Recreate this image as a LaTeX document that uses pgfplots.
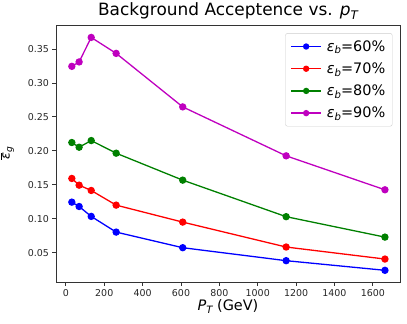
\documentclass[border=0pt]{standalone}
\usepackage{fontspec}
\setmainfont{DejaVu Sans}
\usepackage{pgfplots}
\pgfplotsset{compat=1.18}
\usetikzlibrary{calc}
\definecolor{mgreen}{rgb}{0,0.5,0}
\definecolor{mmag}{rgb}{0.75,0,0.75}
\newcommand{\sub}[1]{\raisebox{-0.35ex}{\fontsize{0.7em}{1em}\selectfont\itshape #1}}
\begin{document}
\begin{tikzpicture}[x=1bp,y=1bp]
\begin{axis}[
  scale only axis,
  width=344bp, height=257bp,
  xmin=-51.5, xmax=1741.5,
  ymin=0.0068, ymax=0.3853,
  xtick={0,200,...,1600},
  ytick={0.05,0.10,...,0.36},
  yticklabel style={/pgf/number format/.cd,fixed,fixed zerofill,precision=2},
  xticklabel style={/pgf/number format/.cd,1000 sep={}},
  /pgf/number format/assume math mode=true,
  scaled y ticks=false,
  tick align=outside,
  major tick length=3.5bp,
  xtick pos=bottom, ytick pos=left,
  ticklabel style={font=\fontsize{9.5}{10}\selectfont, color=black!85},
  axis line style={black!80, line width=0.8bp},
  tick style={black!80, line width=0.8bp},
  title={Background Acceptence vs. \textit{p}\sub{T}},
  title style={font=\fontsize{17}{19}\selectfont, yshift=-4bp},
  xlabel={\textit{P}\sub{T} (GeV)},
  xlabel style={font=\fontsize{14.5}{16}\selectfont, yshift=3bp},
  ylabel={$\overline{\mbox{\textit{ε}}}$\sub{g}},
  ylabel style={font=\fontsize{13}{15}\selectfont, yshift=7bp},
  legend style={at={(0.978,0.968)}, anchor=north east, font=\fontsize{14.5}{16}\selectfont,
    draw=black!20, rounded corners=2bp, row sep=6bp, column sep=3bp, inner sep=5bp},
  legend cell align=left,
  legend image code/.code={\draw[#1, mark repeat=2, mark phase=2, mark size=2.5bp] plot coordinates {(0bp,0bp) (15bp,0bp) (30bp,0bp)};},
  every axis plot/.append style={line width=1.3bp, mark=*, mark size=3bp},
]
\addplot[blue, mark options={fill=blue, draw=blue}] coordinates {
(31,0.1244) (69,0.118) (132,0.1034) (262,0.0803) (609,0.0573) (1148,0.0382) (1663,0.024)};
\addlegendentry{\textit{ε}\sub{b}=60\%}
\addplot[red, mark options={fill=red, draw=red}] coordinates {
(31,0.1593) (69,0.1494) (132,0.1416) (262,0.120) (609,0.095) (1148,0.0583) (1663,0.0406)};
\addlegendentry{\textit{ε}\sub{b}=70\%}
\addplot[mgreen, mark options={fill=mgreen, draw=mgreen}] coordinates {
(31,0.2122) (69,0.2053) (132,0.2151) (262,0.1965) (609,0.1568) (1148,0.103) (1663,0.0729)};
\addlegendentry{\textit{ε}\sub{b}=80\%}
\addplot[mmag, mark options={fill=mmag, draw=mmag}] coordinates {
(31,0.3244) (69,0.3309) (132,0.367) (262,0.3435) (609,0.2647) (1148,0.1926) (1663,0.1426)};
\addlegendentry{\textit{ε}\sub{b}=90\%}
\end{axis}
\pgfresetboundingbox
\path[use as bounding box] ($(current axis.south west)+(-56bp,-42bp)$) rectangle ($(current axis.north east)+(7bp,25bp)$);
\end{tikzpicture}
\end{document}
